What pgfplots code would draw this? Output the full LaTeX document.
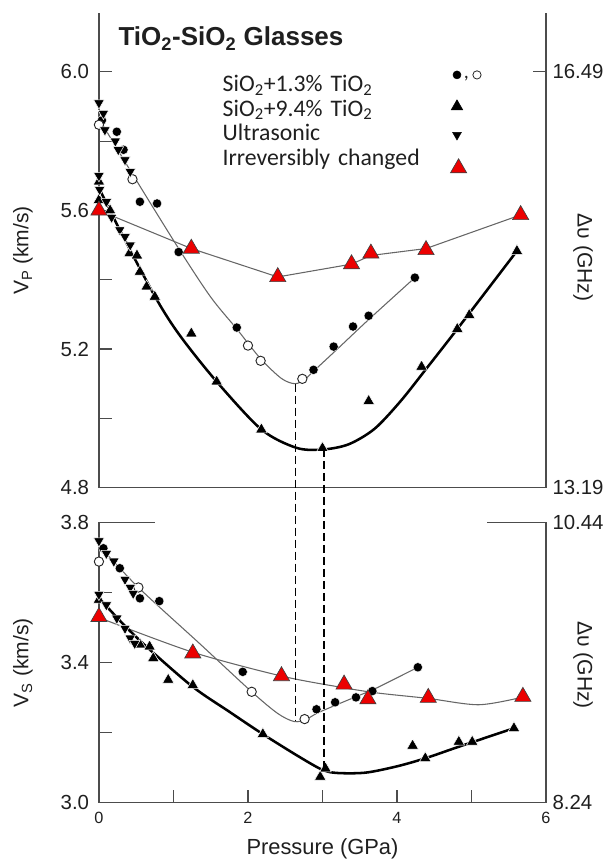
\documentclass[border=0pt]{standalone}
\usepackage{fontspec}
\setmainfont{Liberation Sans}
\newfontfamily\carlito{Carlito}
\usepackage{pgfplots}
\pgfplotsset{compat=1.18}
\definecolor{frame}{gray}{0.30}
\definecolor{txt}{gray}{0.12}
\definecolor{thin}{gray}{0.40}
\definecolor{myred}{RGB}{236,0,0}
\pgfplotsset{
  panel/.style={scale only axis, width=335.3pt, xmin=0, xmax=6, clip=false,
    tick align=inside, major tick length=9.75pt, minor tick length=9.75pt,
    axis line style={draw=frame, line width=0.9pt, -, line cap=rect},
    tick style={draw=frame, line width=0.9pt},
    xticklabel style={font=\fontsize{12.2}{14}\selectfont, text=txt, inner sep=0pt, yshift=-6.75pt},
    label style={font=\fontsize{15.8}{18}\selectfont, text=txt},
  },
  lticks/.style={yticklabel style={font=\fontsize{15.3}{16}\selectfont, text=txt, inner sep=0pt, xshift=-7.2pt}},
  rticks/.style={yticklabel style={font=\fontsize{15.3}{16}\selectfont, text=txt, inner sep=0pt, xshift=4.7pt}},
  mfull/.style={only marks, mark=*, mark size=3.5pt, mark options={draw=white, line width=0.3pt, fill=black}},
  mopen/.style={only marks, mark=*, mark size=3.5pt, mark options={draw=black!85, line width=0.7pt, fill=white}},
  mup/.style={only marks, mark=triangle*, mark size=5pt, mark options={draw=white, line width=0.4pt, fill=black}},
  mdown/.style={only marks, mark=triangle*, mark size=4.6pt, mark options={rotate=180, draw=white, line width=0.4pt, fill=black}},
  mred/.style={only marks, mark=triangle*, mark size=7pt, mark options={draw=black!75, line width=0.5pt, fill=myred}},
  thinline/.style={no marks, smooth, draw=thin, line width=0.8pt},
  thinpoly/.style={no marks, draw=thin, line width=0.8pt},
  thickline/.style={no marks, smooth, draw=black, line width=1.9pt},
}
\begin{document}
\begin{tikzpicture}
\path[use as bounding box] (0,0) rectangle (452.25pt,645.75pt);
% ---------------- top panel ----------------
\begin{axis}[panel, at={(74.2pt,280pt)}, anchor=south west, height=355.7pt,
  ymin=4.8, ymax=6.1685, axis x line*=top, axis y line*=left, tick pos=left, xtick=\empty,
  ytick={4.8,5.2,5.6,6.0}, yticklabels={4.8,5.2,5.6,6.0}, minor ytick={5.0,5.4,5.8}, lticks,
  ylabel={V\textsubscript{P} (km/s)},
  ylabel style={at={(axis description cs:-0.1698,0.5)}, anchor=center},
  legend plot pos=right,
  legend style={at={(axis description cs:0.2769,0.8703)}, anchor=north west, draw=none, fill=none,
    inner sep=0pt, outer sep=0pt, row sep=0pt, column sep=0pt,
    cells={anchor=base west},
    nodes={inner sep=0pt, outer sep=0pt, anchor=base west, text width=160pt, align=left,
      text height=12.5pt, text depth=6pt, text=txt, font=\carlito\fontsize{17.8}{20}\selectfont}},
]
\addlegendimage{legend image code/.code={%
  \path (0pt,0pt);
  \begin{scope}[overlay]
  \draw[black] plot[only marks, mark=*, mark size=3pt, mark options={fill=black}] coordinates {(15.5pt,12.5pt)};
  \node[anchor=base, inner sep=0pt, text width={}, text height={}, text depth={}, text=txt,
        font=\carlito\fontsize{15}{16}\selectfont] at (22.5pt,9.5pt) {,};
  \draw[black] plot[only marks, mark=*, mark size=3.1pt, mark options={fill=white, draw=black!85, line width=0.6pt}] coordinates {(30.5pt,12.5pt)};
  \end{scope}}}
\addlegendentry{SiO\textsubscript{2}+1.3\% TiO\textsubscript{2}}
\addlegendimage{legend image code/.code={%
  \path (0pt,0pt);
  \begin{scope}[overlay]
  \draw[black] plot[only marks, mark=triangle*, mark size=5pt, mark options={fill=black}] coordinates {(15.5pt,7.3pt)};
  \end{scope}}}
\addlegendentry{SiO\textsubscript{2}+9.4\% TiO\textsubscript{2}}
\addlegendimage{legend image code/.code={%
  \path (0pt,0pt);
  \begin{scope}[overlay]
  \draw[black] plot[only marks, mark=triangle*, mark size=3.8pt, mark options={rotate=180, fill=black}] coordinates {(15.5pt,4.5pt)};
  \end{scope}}}
\addlegendentry{Ultrasonic}
\addlegendimage{legend image code/.code={%
  \path (0pt,0pt);
  \begin{scope}[overlay]
  \draw[black!75] plot[only marks, mark=triangle*, mark size=7pt, mark options={fill=myred, line width=0.5pt}] coordinates {(16.7pt,-1.9pt)};
  \end{scope}}}
\addlegendentry{Irreversibly changed}
% partial frame at bottom of top panel
\draw[frame, line width=0.9pt, line cap=rect] (axis cs:0,4.8) -- (axis cs:0.75,4.8);
\draw[frame, line width=0.9pt, line cap=rect] (axis cs:5.21,4.8) -- (axis cs:6,4.8);
% fit lines
\addplot[thinline] coordinates {(0.0,5.865) (0.45,5.705) (1.07,5.49) (1.5,5.35) (1.85,5.258) (2.17,5.172) (2.45,5.115) (2.63,5.100) (2.76,5.112) (2.9,5.14) (3.2,5.2) (3.62,5.285) (4.24,5.406)};
\addplot[thinpoly] coordinates {(0,5.60) (1.24,5.49) (2.40,5.408) (3.39,5.445) (3.65,5.47) (4.39,5.49) (5.66,5.587)};
\addplot[thickline] coordinates {(0.0,5.665) (0.3,5.535) (0.77,5.345) (1.09,5.238) (1.58,5.106) (2.18,4.968) (2.65,4.915) (3.0,4.91) (3.35,4.925) (3.7,4.97) (4.05,5.05) (4.4,5.145) (4.81,5.258) (5.61,5.483)};
\coordinate (da) at (axis cs:2.64,5.100);
\coordinate (db) at (axis cs:3.02,4.912);
% data
\addplot[mfull] coordinates {(0.04,5.86) (0.24,5.827) (0.33,5.775) (0.55,5.625) (0.78,5.62) (1.07,5.48) (1.85,5.262) (2.88,5.14) (3.15,5.207) (3.41,5.265) (3.62,5.296) (4.24,5.406)};
\addplot[mopen] coordinates {(0,5.847) (0.45,5.69) (2.0,5.21) (2.17,5.166) (2.73,5.114)};
\addplot[mdown] coordinates {(0,5.91) (0.06,5.88) (0.08,5.832) (0.22,5.80) (0.26,5.775) (0.35,5.746) (0.42,5.712)};
\addplot[mup] coordinates {(0,5.683) (0,5.63) (0.15,5.60) (0.41,5.476) (0.51,5.47) (0.55,5.423) (0.64,5.38) (0.75,5.351) (1.24,5.245) (1.58,5.106) (2.18,4.968) (3.0,4.914) (3.62,5.05) (4.33,5.149) (4.81,5.258) (4.97,5.298) (5.61,5.483)};
\addplot[mdown] coordinates {(0,5.70) (0.01,5.66) (0.1,5.625) (0.17,5.58) (0.28,5.544) (0.35,5.524) (0.42,5.50)};
\addplot[mred] coordinates {(0,5.60) (1.24,5.49) (2.40,5.408) (3.39,5.445) (3.65,5.476) (4.39,5.486) (5.66,5.587)};
\end{axis}
\begin{axis}[panel, at={(74.2pt,280pt)}, anchor=south west, height=355.7pt,
  ymin=4.8, ymax=6.1685, axis x line=none, axis y line*=right, ytick pos=right, xtick=\empty,
  ytick={4.8,6.0}, yticklabels={13.19,16.49}, rticks,
  ylabel={Δυ (GHz)},
  ylabel style={at={(axis description cs:1.0828,0.485)}, anchor=center, rotate=180}]
\end{axis}
% ---------------- bottom panel ----------------
\begin{axis}[panel, at={(74.2pt,43.7pt)}, anchor=south west, height=210pt,
  ymin=3.0, ymax=3.8, axis x line*=bottom, axis y line*=left, tick pos=left,
  xtick={0,2,4,6}, xticklabels={0,2,4,6}, minor xtick={1,3,5},
  ytick={3.0,3.4,3.8}, yticklabels={3.0,3.4,3.8}, minor ytick={3.2,3.6}, lticks,
  ylabel={V\textsubscript{S} (km/s)},
  ylabel style={at={(axis description cs:-0.1698,0.5)}, anchor=center},
  xlabel={Pressure (GPa)},
  xlabel style={at={(axis description cs:0.5,-0.1654)}, anchor=center, font=\fontsize{16.4}{18}\selectfont},
]
\draw[frame, line width=0.9pt, line cap=rect] (axis cs:0,3.8) -- (axis cs:0.75,3.8);
\draw[frame, line width=0.9pt, line cap=rect] (axis cs:5.21,3.8) -- (axis cs:6,3.8);
\coordinate (dc) at (axis cs:2.64,3.234);
\coordinate (dd) at (axis cs:3.02,3.10);
\addplot[thinline] coordinates {(0,3.735) (0.53,3.615) (1.35,3.455) (2.05,3.317) (2.4,3.255) (2.62,3.232) (2.78,3.238) (2.95,3.258) (3.45,3.303) (3.67,3.322) (4.28,3.387)};
\addplot[thinline] coordinates {(0.05,3.525) (1.26,3.43) (2.45,3.362) (3.3,3.328) (3.76,3.313) (4.42,3.298) (5.1,3.28) (5.69,3.302)};
\addplot[thickline] coordinates {(0.0,3.585) (0.35,3.505) (0.69,3.436) (1.26,3.331) (1.75,3.26) (2.2,3.196) (2.69,3.131) (3.0,3.094) (3.2,3.085) (3.58,3.086) (4.0,3.104) (4.38,3.127) (4.83,3.16) (5.57,3.213)};
\addplot[mfull] coordinates {(0.06,3.727) (0.28,3.67) (0.55,3.584) (0.81,3.576) (1.93,3.374) (2.92,3.267) (3.17,3.287) (3.45,3.301) (3.67,3.319) (4.28,3.387)};
\addplot[mopen] coordinates {(0,3.689) (0.53,3.615) (2.05,3.317) (2.76,3.239)};
\addplot[mdown] coordinates {(0,3.748) (0.1,3.712) (0.2,3.69) (0.35,3.638) (0.42,3.615) (0.46,3.598)};
\addplot[mup] coordinates {(0,3.58) (0.55,3.452) (0.68,3.446) (0.73,3.413) (0.93,3.351) (1.26,3.336) (2.2,3.196) (2.97,3.074) (3.04,3.098) (4.21,3.163) (4.38,3.127) (4.83,3.174) (5.01,3.174) (5.57,3.213)};
\addplot[mdown] coordinates {(0,3.595) (0.1,3.565) (0.24,3.527) (0.35,3.498) (0.42,3.47) (0.48,3.455)};
\addplot[mred] coordinates {(0,3.531) (1.26,3.427) (2.45,3.362) (3.29,3.338) (3.61,3.296) (4.42,3.30) (5.69,3.303)};
\end{axis}
\begin{axis}[panel, at={(74.2pt,43.7pt)}, anchor=south west, height=210pt,
  ymin=3.0, ymax=3.8, axis x line=none, axis y line*=right, ytick pos=right, xtick=\empty,
  ytick={3.0,3.8}, yticklabels={8.24,10.44}, rticks,
  ylabel={Δυ (GHz)},
  ylabel style={at={(axis description cs:1.0828,0.4918)}, anchor=center, rotate=180}]
\end{axis}
\draw[thin, line width=0.85pt, dash pattern=on 6pt off 3pt] (da) -- (dc);
\draw[thin, line width=0.85pt, dash pattern=on 6pt off 3pt] (db) -- (dd);
\node[anchor=base west, inner sep=0pt, text=txt, font=\bfseries\fontsize{19.5}{22}\selectfont] at (88.7pt,611.25pt) {TiO\textsubscript{2}-SiO\textsubscript{2} Glasses};
\end{tikzpicture}
\end{document}
